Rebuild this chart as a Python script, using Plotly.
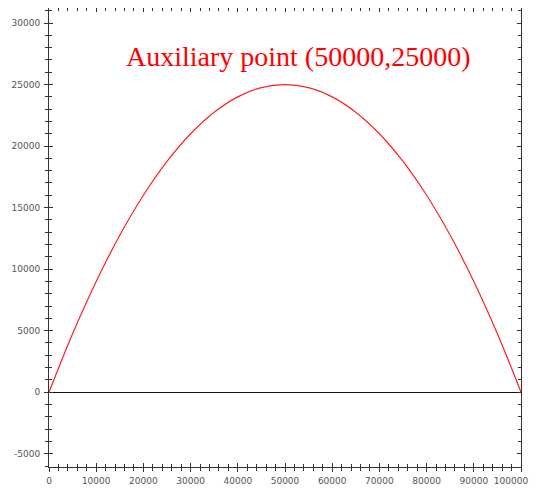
import plotly.graph_objects as go

x_vals = [0, 5000, 10000, 15000, 20000, 25000, 30000, 35000, 40000, 45000, 50000,
          55000, 60000, 65000, 70000, 75000, 80000, 85000, 90000, 95000, 100000]
y_vals = [0, 4750, 9000, 12750, 16000, 18750, 21000, 22750, 24000, 24750, 25000,
          24750, 24000, 22750, 21000, 18750, 16000, 12750, 9000, 4750, 0]
x_ticks = [0, 10000, 20000, 30000, 40000, 50000, 60000, 70000, 80000, 90000, 100000]
y_ticks = [-5000, 0, 5000, 10000, 15000, 20000, 25000, 30000]
x_tick_labels = [str(v) for v in x_ticks]
y_tick_labels = [str(v) for v in y_ticks]
label_text = "Auxiliary point (50000,25000)"

# keep the last x label inside the visible page (trailing padding shifts it left)
x_text = x_tick_labels[:-1] + [x_tick_labels[-1] + "\u00a0" * 7]

fig = go.Figure()
fig.add_trace(go.Scatter(x=x_vals, y=y_vals, mode="lines",
                         line=dict(color="#ff2020", width=1.2, shape="spline"),
                         showlegend=False, hoverinfo="skip"))
fig.add_trace(go.Scatter(x=[x_vals[0]], y=[y_vals[0]], xaxis="x2", yaxis="y2",
                         mode="markers", marker=dict(opacity=0), showlegend=False,
                         hoverinfo="skip"))

axis_col = "#333333"
tickfont = dict(family="DejaVu Sans", size=9, color="#555555")
xr = [0, 100000]
yr = [-6080, 31220]

W, H = 532, 478
ML, MR, MT, MB = 41, 19, 0, 19
PW, PH = W - ML - MR, H - MT - MB

fig.update_layout(
    width=W, height=H,
    margin=dict(l=ML, r=MR, t=MT, b=MB, pad=0),
    paper_bgcolor="white", plot_bgcolor="white",
    xaxis=dict(range=xr, tickvals=x_ticks, ticktext=x_text, showgrid=False, zeroline=False,
               showline=True, linecolor=axis_col, linewidth=1, mirror="ticks",
               ticks="inside", ticklen=4, tickcolor=axis_col, tickwidth=1,
               minor=dict(dtick=2000, ticks="inside", ticklen=3, tickcolor=axis_col, showgrid=False),
               tickfont=tickfont, ticklabelstandoff=5, automargin=False,
               ticklabeloverflow="allow"),
    yaxis=dict(range=yr, tickvals=y_ticks, ticktext=y_tick_labels, showgrid=False, zeroline=True,
               zerolinecolor="#111111", zerolinewidth=1,
               showline=True, linecolor=axis_col, linewidth=1, mirror="ticks",
               ticks="inside", ticklen=4, tickcolor=axis_col, tickwidth=1,
               minor=dict(dtick=1000, ticks="inside", ticklen=3, tickcolor=axis_col, showgrid=False),
               tickfont=tickfont, ticklabelstandoff=6, automargin=False),
    xaxis2=dict(overlaying="x", matches="x", side="bottom", anchor="y2",
                tickvals=x_ticks, showticklabels=False, showgrid=False, zeroline=False,
                ticks="outside", ticklen=4, tickcolor=axis_col, tickwidth=1, automargin=False,
                minor=dict(dtick=2000, ticks="outside", ticklen=3, tickcolor=axis_col, showgrid=False)),
    yaxis2=dict(overlaying="y", matches="y", side="left", anchor="x2",
                tickvals=y_ticks, showticklabels=False, showgrid=False, zeroline=False,
                ticks="outside", ticklen=4, tickcolor=axis_col, tickwidth=1, automargin=False,
                minor=dict(dtick=1000, ticks="outside", ticklen=3, tickcolor=axis_col, showgrid=False)),
)

# page is offset by the 8px body margin
fig.add_annotation(x=(298 - 8 - ML) / PW, y=1 - (57 - 8 - MT) / PH,
                   xref="paper", yref="paper", text=label_text,
                   showarrow=False, font=dict(family="Liberation Serif", size=28, color="#ff0000"),
                   xanchor="center", yanchor="middle")

fig.write_html("out.html")
